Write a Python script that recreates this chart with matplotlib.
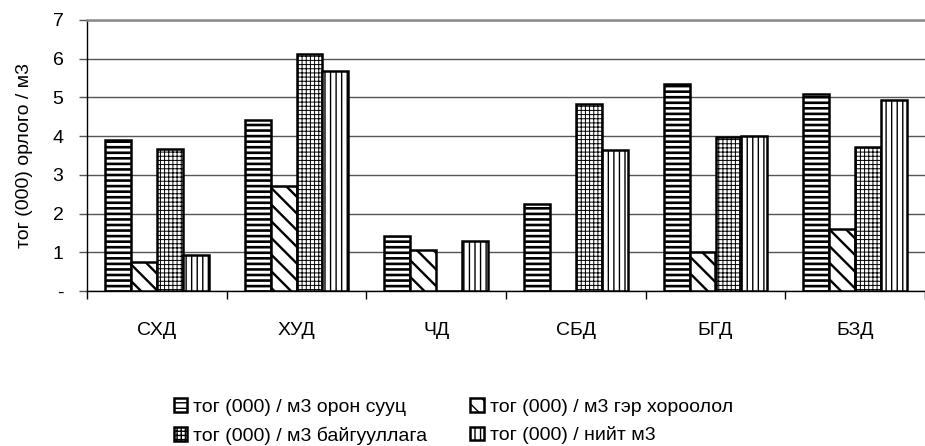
import numpy as np
import matplotlib
matplotlib.use('Agg')
from matplotlib import pyplot as plt

plt.rcParams['font.family'] = ['Liberation Sans', 'DejaVu Sans']

# districts
districts = ['СХД', 'ХУД', 'ЧД', 'СБД', 'БГД', 'БЗД']

# cost per m3 (thousand tugrik)
apartment = [3.90, 4.42, 1.43, 2.25, 5.35, 5.10]
ger_area = [0.75, 2.72, 1.05, 0.0, 1.02, 1.60]
organization = [3.68, 6.12, 0.0, 4.82, 3.97, 3.72]
total = [0.92, 5.67, 1.28, 3.65, 4.00, 4.93]

series = [apartment, ger_area, organization, total]
labels = ['тог (000) / м3 орон сууц', 'тог (000) / м3 гэр хороолол',
          'тог (000) / м3 байгууллага', 'тог (000) / нийт м3']
hatches = ['---', '\\\\', '++++', '|||']
hatch_lw = [1.9, 1.7, 0.7, 1.0]
ytick_labels = ['-', '1', '2', '3', '4', '5', '6', '7']

fig = plt.figure(figsize=(9.25, 4.46), dpi=100)
ax = fig.add_axes([87 / 925, 1 - 291 / 446, 1 - 87 / 925, (291 - 20) / 446])

x = np.arange(len(districts))
w = 0.185
handles = []
for i, vals in enumerate(series):
    with plt.rc_context({'hatch.linewidth': hatch_lw[i]}):
        b = ax.bar(x + (i - 1.5) * w, vals, w, color='white', edgecolor='black',
                   linewidth=1.8, hatch=hatches[i], zorder=3)
    handles.append(b)

ax.set_xlim(-0.5, len(districts) - 0.5)
ax.set_ylim(0, 7)
ax.set_yticks(range(8))
ax.set_yticklabels(ytick_labels, fontsize=14)
ax.set_xticks(x)
ax.set_xticklabels(districts, fontsize=14)
ax.set_xticks(np.arange(-0.5, len(districts)), minor=True)
ax.tick_params(axis='x', which='major', length=0, pad=22)
ax.tick_params(axis='x', which='minor', length=6, width=1, direction='out')
ax.tick_params(axis='y', length=6, width=1, pad=11, color='#555555')

ax.grid(axis='y', color='#555555', linewidth=1.0, zorder=0)
ax.set_axisbelow(True)
ax.spines['right'].set_visible(False)
ax.spines['top'].set_color('#8a8a8a')
ax.spines['top'].set_linewidth(1.8)
ax.spines['left'].set_linewidth(1.0)
ax.spines['bottom'].set_linewidth(1.0)

ax.set_ylabel('тог (000) орлого / м3', fontsize=14, labelpad=14)

order = [0, 2, 1, 3]
fig.legend([handles[k] for k in order], [labels[k] for k in order],
           loc='center', bbox_to_anchor=(0.49, 0.055), ncol=2, frameon=False,
           fontsize=14, handlelength=0.7, handleheight=0.7, handletextpad=0.3,
           columnspacing=2.2, labelspacing=0.55)

fig.savefig('out.png', dpi=100)
